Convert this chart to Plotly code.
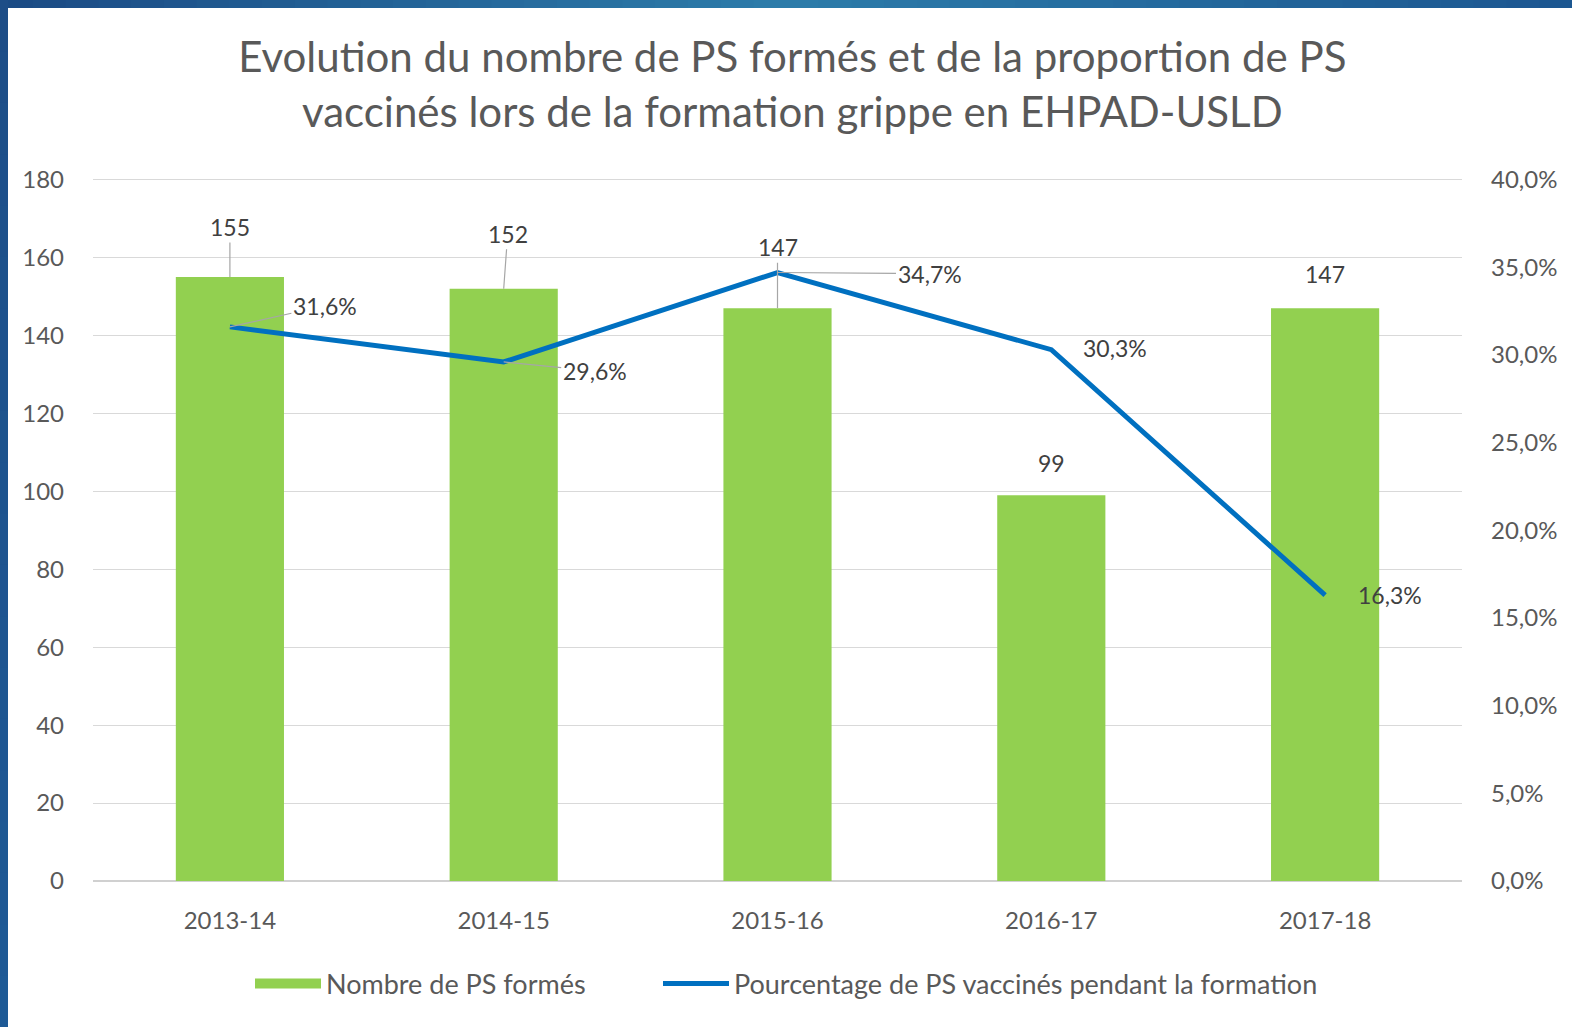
import plotly.graph_objects as go

# ---- data ----
categories = ["2013-14", "2014-15", "2015-16", "2016-17", "2017-18"]
ps_formes = [155, 152, 147, 99, 147]
pct_vaccines = [31.6, 29.6, 34.7, 30.3, 16.3]
left_ticks = [0, 20, 40, 60, 80, 100, 120, 140, 160, 180]
right_ticks = [0, 5, 10, 15, 20, 25, 30, 35, 40]
right_tick_labels = [f"{v:.1f}".replace(".", ",") + "%" for v in right_ticks]

title_text = ("Evolution du nombre de PS formés et de la proportion de PS<br>"
              "vaccinés lors de la formation grippe en EHPAD-USLD")
bar_name = "Nombre de PS formés"
line_name = "Pourcentage de PS vaccinés pendant la formation"

# ---- layout constants ----
W, H = 1572, 1027
ML, MR, MT, MB = 93, 110, 178, 146
PW, PH = W - ML - MR, H - MT - MB
FONT = "Lato, 'Open Sans', sans-serif"
GRAY = "#595959"
DARK = "#404040"
LEAD = "#A6A6A6"
GREEN = "#92D050"
BLUE = "#0070C0"

fig = go.Figure()
fig.add_trace(go.Bar(
    x=categories, y=ps_formes, name=bar_name,
    marker=dict(color=GREEN, line=dict(width=0)),
    yaxis="y", showlegend=False,
))
# legend key for the bars (wide green swatch, like the original)
fig.add_trace(go.Scatter(
    x=[None], y=[None], name=bar_name, mode="lines",
    line=dict(color=GREEN, width=18), yaxis="y", hoverinfo="skip",
    legend="legend",
))
fig.add_trace(go.Scatter(
    x=categories, y=pct_vaccines, name=line_name, mode="lines",
    line=dict(color=BLUE, width=5),
    yaxis="y2", legend="legend2",
))

# data-label placement (pixel offsets, styles only)
bar_offsets = [(0, -50, True), (4, -55, True), (0, -61, True), (0, -32, False), (0, -34, False)]
line_offsets = [(95, -21, True), (91, 9, True), (152, 1, True), (64, -2, False), (65, 0, False)]

annotations = []
for c, v, (dx, dy, arrow) in zip(categories, ps_formes, bar_offsets):
    a = dict(x=c, y=v, xref="x", yref="y", text=str(v),
             font=dict(family=FONT, size=23, color=DARK))
    if arrow:
        a.update(showarrow=True, ax=dx, ay=dy, arrowhead=0, arrowwidth=1.2,
                 arrowcolor=LEAD, standoff=0)
    else:
        a.update(showarrow=False, xshift=dx, yshift=-dy)
    annotations.append(a)

for c, v, (dx, dy, arrow) in zip(categories, pct_vaccines, line_offsets):
    txt = f"{v:.1f}".replace(".", ",") + "%"
    a = dict(x=c, y=v, xref="x", yref="y2", text=txt,
             font=dict(family=FONT, size=23, color=DARK))
    if arrow:
        a.update(showarrow=True, ax=dx, ay=dy, arrowhead=0, arrowwidth=1.2,
                 arrowcolor=LEAD, standoff=0)
    else:
        a.update(showarrow=False, xshift=dx, yshift=-dy)
    annotations.append(a)

# frame (blue border on the left and top)
def px_x(p):
    return (p - ML) / PW

def px_y(p):
    return (H - MB - p) / PH

def lerp(c1, c2, t):
    return "rgb(%d,%d,%d)" % tuple(round(a + (b - a) * t) for a, b in zip(c1, c2))

shapes = []
c_left = (27, 74, 132)
c_mid = (44, 124, 170)
c_right = (28, 86, 144)
nseg = 48
for i in range(nseg):
    x0 = i * W / nseg
    x1 = (i + 1) * W / nseg + 1
    t = (i + 0.5) / nseg
    if t < 0.5:
        col = lerp(c_left, c_mid, t / 0.5)
    else:
        col = lerp(c_mid, c_right, (t - 0.5) / 0.5)
    shapes.append(dict(type="rect", xref="paper", yref="paper",
                       x0=px_x(x0), x1=px_x(x1), y0=px_y(8), y1=px_y(0),
                       fillcolor=col, line=dict(width=0), layer="above"))
nseg_v = 20
for i in range(nseg_v):
    y0 = i * H / nseg_v
    y1 = (i + 1) * H / nseg_v + 1
    t = (i + 0.5) / nseg_v
    col = lerp((29, 77, 135), (30, 90, 150), t)
    shapes.append(dict(type="rect", xref="paper", yref="paper",
                       x0=px_x(0), x1=px_x(8), y0=px_y(y1), y1=px_y(y0),
                       fillcolor=col, line=dict(width=0), layer="above"))

legend_common = dict(orientation="h", xanchor="left", y=px_y(984), yanchor="middle",
                     font=dict(family=FONT, size=27, color=GRAY), itemwidth=66,
                     bgcolor="rgba(0,0,0,0)")

fig.update_layout(
    width=W, height=H,
    margin=dict(l=ML, r=MR, t=MT, b=MB, autoexpand=False),
    paper_bgcolor="white", plot_bgcolor="white",
    separators=", ",
    font=dict(family=FONT, color=GRAY, size=23),
    title=dict(text=title_text, x=0.504, xanchor="center",
               y=1 - 72 / H, yanchor="middle", yref="container",
               font=dict(family=FONT, size=42, color=GRAY)),
    bargap=0.605,
    xaxis=dict(range=[-0.5, 4.5], showgrid=False, showline=False, zeroline=False,
               ticks="", tickfont=dict(size=24, color=GRAY), ticklabelstandoff=23),
    yaxis=dict(range=[0, 180.4], tickvals=left_ticks, showgrid=True,
               gridcolor="#D9D9D9", gridwidth=1.3, zeroline=True,
               zerolinecolor="#D0D0D0", zerolinewidth=1.8, showline=False,
               ticks="", tickfont=dict(size=24, color=GRAY), ticklabelstandoff=28),
    yaxis2=dict(range=[0, 40.09], tickvals=right_ticks, ticktext=right_tick_labels,
                overlaying="y", side="right", showgrid=False, zeroline=False,
                showline=False, ticks="", tickfont=dict(size=24, color=GRAY),
                ticklabelstandoff=28),
    legend=dict(x=px_x(250), **legend_common),
    legend2=dict(x=px_x(658), **legend_common),
    showlegend=True,
    annotations=annotations,
    shapes=shapes,
)

fig.write_html("out.html")
